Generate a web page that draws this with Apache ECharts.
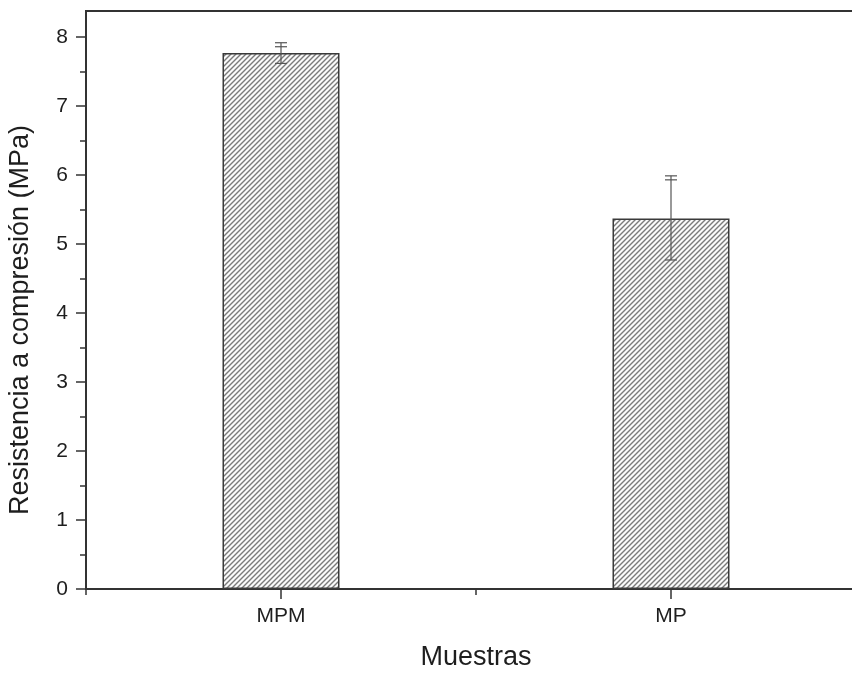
<!DOCTYPE html>
<html>
<head>
<meta charset="utf-8">
<script src="https://cdn.jsdelivr.net/npm/echarts@6/dist/echarts.min.js"></script>
<style>
  html, body { margin: 0; padding: 0; background: #fff; }
  #chart { width: 852px; height: 673px; }
</style>
</head>
<body>
<div id="chart"></div>
<script>
// data
const categories = ['MPM', 'MP']
const means = [7.77, 5.37]
const errUp = [0.15, 0.62]
const errDown = [0.15, 0.60]
const majorTicks = [0, 1, 2, 3, 4, 5, 6, 7, 8]
const minorTicks = [0.5, 1.5, 2.5, 3.5, 4.5, 5.5, 6.5, 7.5]

const FONT = '"Liberation Sans", Arial, sans-serif'
const AXIS = '#333'
const TEXT = '#1e1e1e'

// hatch pattern "/" for the bars
function hatch () {
  const s = 5
  const c = document.createElement('canvas')
  c.width = s
  c.height = s
  const ctx = c.getContext('2d')
  ctx.fillStyle = '#fafafa'
  ctx.fillRect(0, 0, s, s)
  ctx.strokeStyle = '#7a7a7a'
  ctx.lineWidth = 1.4
  ctx.beginPath()
  ctx.moveTo(-1, s + 1); ctx.lineTo(s + 1, -1)
  ctx.moveTo(-1, 1); ctx.lineTo(1, -1)
  ctx.moveTo(s - 1, s + 1); ctx.lineTo(s + 1, s - 1)
  ctx.stroke()
  return c
}

const errData = categories.map((c, i) => [i, means[i] - errDown[i], means[i] + errUp[i]])

const chart = echarts.init(document.getElementById('chart'))
const yBase = { type: 'value', min: 0, max: 8.38, splitLine: { show: false } }

chart.setOption({
  animation: false,
  backgroundColor: '#fff',
  grid: {
    left: 86, width: 780, top: 11, bottom: 84,
    outerBoundsMode: 'none',
    containLabel: false,
    show: true, borderColor: AXIS, borderWidth: 2
  },
  xAxis: [{
    type: 'category',
    data: categories,
    name: 'Muestras',
    nameLocation: 'middle',
    nameGap: 55,
    nameTextStyle: { fontFamily: FONT, fontSize: 27, color: TEXT },
    axisLine: { lineStyle: { color: AXIS, width: 2 } },
    axisTick: { show: true, alignWithLabel: false, length: 6, lineStyle: { color: AXIS, width: 1.5 } },
    axisLabel: { margin: 17, fontFamily: FONT, fontSize: 21, color: TEXT }
  }, {
    type: 'category',
    data: categories,
    position: 'bottom',
    axisLine: { show: false },
    axisTick: { show: true, alignWithLabel: true, length: 10, lineStyle: { color: AXIS, width: 1.5 } },
    axisLabel: { show: false }
  }],
  yAxis: [Object.assign({}, yBase, {
    name: 'Resistencia a compresión (MPa)',
    nameLocation: 'middle',
    nameGap: 52,
    nameTextStyle: { fontFamily: FONT, fontSize: 27, color: TEXT, padding: [0, 40, 0, 0] },
    axisLine: { show: true, lineStyle: { color: AXIS, width: 2 } },
    axisTick: { show: true, length: 10, customValues: majorTicks, lineStyle: { color: AXIS, width: 1.5 } },
    axisLabel: { margin: 18, customValues: majorTicks, fontFamily: FONT, fontSize: 21, color: TEXT }
  }), Object.assign({}, yBase, {
    position: 'left',
    axisLine: { show: false },
    axisTick: { show: true, length: 6, customValues: minorTicks, lineStyle: { color: AXIS, width: 1.5 } },
    axisLabel: { show: false }
  })],
  series: [{
    type: 'bar',
    data: means,
    barWidth: '30%',
    itemStyle: {
      color: { image: hatch(), repeat: 'repeat' },
      borderColor: '#3a3a3a',
      borderWidth: 1.5
    }
  }, {
    type: 'custom',
    data: errData,
    z: 5,
    renderItem (params, api) {
      const lo = api.coord([api.value(0), api.value(1)])
      const hi = api.coord([api.value(0), api.value(2)])
      const x = lo[0]
      const w = 6
      const st = { stroke: '#555', lineWidth: 1.2 }
      return {
        type: 'group',
        children: [
          { type: 'line', shape: { x1: x, y1: lo[1], x2: x, y2: hi[1] }, style: st },
          { type: 'line', shape: { x1: x - w, y1: hi[1], x2: x + w, y2: hi[1] }, style: st },
          { type: 'line', shape: { x1: x - w, y1: hi[1] + 4, x2: x + w, y2: hi[1] + 4 }, style: st },
          { type: 'line', shape: { x1: x - w, y1: lo[1], x2: x + w, y2: lo[1] }, style: st }
        ]
      }
    }
  }]
})
</script>
</body>
</html>
